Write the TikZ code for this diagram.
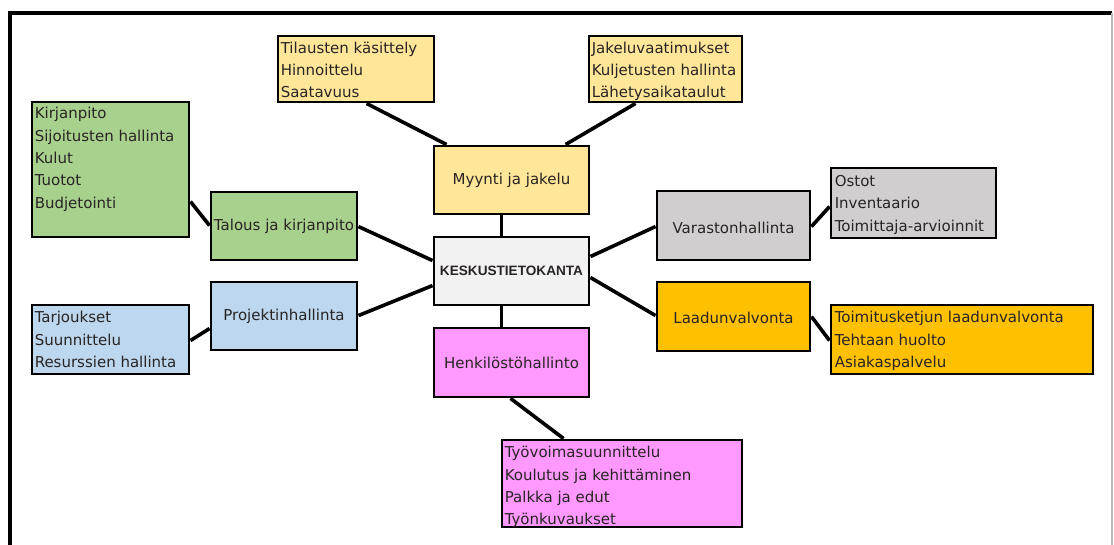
\documentclass[tikz,border=0pt]{standalone}
\usepackage{fontspec}
\setmainfont{DejaVu Sans}
\newfontfamily\boldlab{Liberation Sans}
\usetikzlibrary{calc}
\definecolor{cyellow}{RGB}{255,230,153}
\definecolor{cgreen}{RGB}{169,209,142}
\definecolor{cgray}{RGB}{208,206,206}
\definecolor{ccenter}{RGB}{242,242,242}
\definecolor{corange}{RGB}{255,192,0}
\definecolor{cblue}{RGB}{189,215,238}
\definecolor{cpink}{RGB}{255,153,255}
\definecolor{ctext}{RGB}{40,36,36}
\tikzset{
  box/.style={draw=black, line width=2.9pt, rectangle, inner sep=0pt},
  lab/.style={font=\fontsize{15}{22.5}\selectfont, text=ctext, inner sep=0pt},
  listtext/.style={font=\fontsize{15}{22.4}\selectfont, text=ctext, inner sep=0pt, align=left, anchor=north west},
  conn/.style={draw=black, line width=3.6pt},
}
\begin{document}
\begin{tikzpicture}[x=1pt,y=-1pt]
\useasboundingbox (0,0) rectangle (1114,545);
\fill[white] (0,0) rectangle (1114,545);
% frame
\draw[black, line width=3.2pt] (10,545) -- (10,13) -- (1112,13);
\draw[gray!55, line width=1.5pt] (1112,13) -- (1112,545);

% boxes
\node[box, fill=cyellow, minimum width=156, minimum height=66] (ty) at (356,69) {};
\node[box, fill=cyellow, minimum width=153, minimum height=66] (jy) at (665.5,69) {};
\node[box, fill=cyellow, minimum width=155, minimum height=68] (my) at (511.5,180) {};
\node[lab] (myt) at (my.center) {Myynti ja jakelu};

\node[box, fill=cgreen, minimum width=157, minimum height=135] (gl) at (110.5,169.5) {};
\node[box, fill=cgreen, minimum width=146, minimum height=68] (tk) at (284,226) {};
\node[lab] (tkt) at (tk.center) {Talous ja kirjanpito};

\node[box, fill=cblue, minimum width=146, minimum height=68] (pr) at (284,316) {};
\node[lab] (prt) at (pr.center) {Projektinhallinta};
\node[box, fill=cblue, minimum width=157, minimum height=69] (bl) at (110.5,339.5) {};

\node[box, fill=ccenter, minimum width=155, minimum height=68] (kk) at (511.5,271) {};
\node[text=ctext, inner sep=0pt, font=\boldlab\bfseries\fontsize{13.6}{16}\selectfont] (kkt) at (kk.center) {KESKUSTIETOKANTA};

\node[box, fill=cpink, minimum width=155, minimum height=69] (he) at (511.5,362.5) {};
\node[lab] (het) at (he.center) {Henkilöstöhallinto};
\node[box, fill=cpink, minimum width=240, minimum height=87] (pk) at (622,483.5) {};

\node[box, fill=cgray, minimum width=153, minimum height=69] (va) at (733.5,225.5) {};
\node[lab] (vat) at ($(va.center)+(0,2)$) {Varastonhallinta};
\node[box, fill=cgray, minimum width=165, minimum height=70] (gr) at (913.5,203) {};

\node[box, fill=corange, minimum width=153, minimum height=69] (la) at (733.5,316.5) {};
\node[lab] (lat) at ($(la.center)+(0,1)$) {Laadunvalvonta};
\node[box, fill=corange, minimum width=262, minimum height=69] (or) at (962,339.5) {};

% list texts
\node[listtext] (tyt) at ($(ty.north west)+(4,7)$) {Tilausten käsittely\\Hinnoittelu\\Saatavuus};
\node[listtext] (jyt) at ($(jy.north west)+(4,7)$) {Jakeluvaatimukset\\Kuljetusten hallinta\\Lähetysaikataulut};
\node[listtext] (glt) at ($(gl.north west)+(4,6.5)$) {Kirjanpito\\Sijoitusten hallinta\\Kulut\\Tuotot\\Budjetointi};
\node[listtext] (blt) at ($(bl.north west)+(4,7.5)$) {Tarjoukset\\Suunnittelu\\Resurssien hallinta};
\node[listtext] (grt) at ($(gr.north west)+(5,8.5)$) {Ostot\\Inventaario\\Toimittaja-arvioinnit};
\node[listtext] (ort) at ($(or.north west)+(5,7.5)$) {Toimitusketjun laadunvalvonta\\Tehtaan huolto\\Asiakaspalvelu};
\node[listtext] (pkt) at ($(pk.north west)+(4,7.5)$) {Työvoimasuunnittelu\\Koulutus ja kehittäminen\\Palkka ja edut\\Työnkuvaukset};

% connectors
\draw[conn] ($(ty.south west)+(90,0)$) -- ($(my.north west)+(14,0)$);
\draw[conn] ($(jy.south west)+(48,0)$) -- ($(my.north west)+(133,0)$);
\draw[conn] ($(my.south west)+(69,0)$) -- ($(kk.north west)+(69,0)$);
\draw[conn] ($(gl.north east)+(0,101)$) -- ($(tk.north west)+(0,35)$);
\draw[conn] ($(tk.north east)+(0,36)$) -- ($(kk.north west)+(0,25)$);
\draw[conn] ($(pr.north east)+(0,35)$) -- ($(kk.north west)+(0,50)$);
\draw[conn] ($(bl.north east)+(0,37)$) -- ($(pr.north west)+(0,48)$);
\draw[conn] ($(kk.north east)+(0,21)$) -- ($(va.north west)+(0,37)$);
\draw[conn] ($(kk.north east)+(0,42)$) -- ($(la.north west)+(0,35)$);
\draw[conn] ($(va.north east)+(0,37)$) -- ($(gr.north west)+(0,40)$);
\draw[conn] ($(la.north east)+(0,36)$) -- ($(or.north west)+(0,37)$);
\draw[conn] ($(kk.south west)+(69,0)$) -- ($(he.north west)+(69,0)$);
\draw[conn] ($(he.south west)+(78,0)$) -- ($(pk.north west)+(63,0)$);
\end{tikzpicture}
\end{document}
